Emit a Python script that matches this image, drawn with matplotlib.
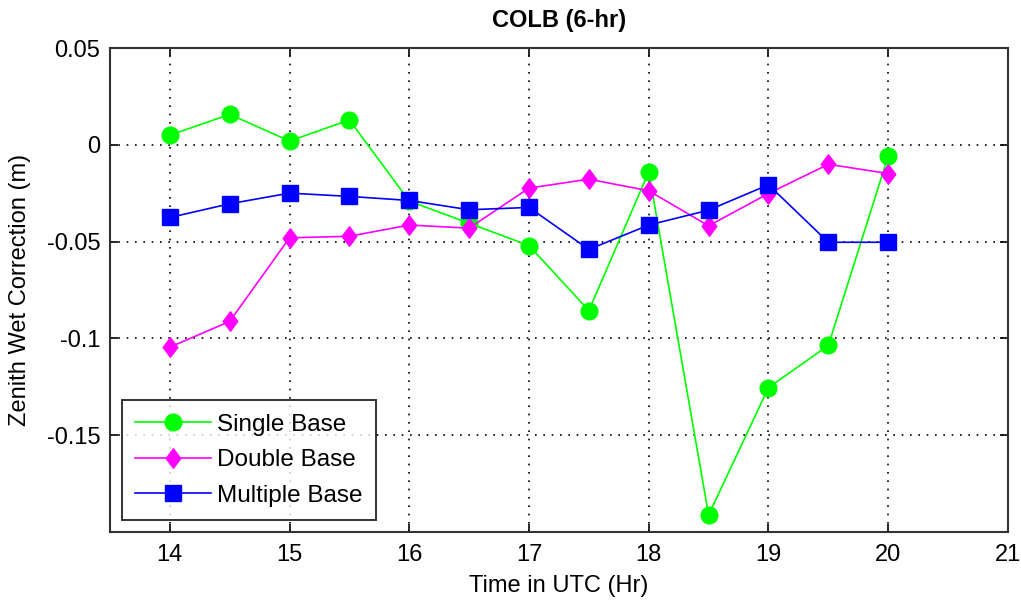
import matplotlib
matplotlib.use("Agg")
import matplotlib.pyplot as plt
from matplotlib.path import Path

times = [14, 14.5, 15, 15.5, 16, 16.5, 17, 17.5, 18, 18.5, 19, 19.5, 20]
single_base = [0.005, 0.0158, 0.002, 0.0129, -0.029, -0.0405, -0.052, -0.0856, -0.0139, -0.1912, -0.1254, -0.1036, -0.0057]
double_base = [-0.1045, -0.0912, -0.048, -0.0472, -0.0414, -0.043, -0.0223, -0.0177, -0.0237, -0.0418, -0.0251, -0.010, -0.0148]
multiple_base = [-0.0375, -0.0304, -0.0249, -0.0266, -0.0287, -0.0335, -0.0323, -0.054, -0.0414, -0.0337, -0.0206, -0.0503, -0.0503]
xticks = [14, 15, 16, 17, 18, 19, 20, 21]
yticks = [0.05, 0, -0.05, -0.1, -0.15]
ytick_labels = ["0.05", "0", "-0.05", "-0.1", "-0.15"]

plt.rcParams['font.family'] = ['Liberation Sans', 'DejaVu Sans']

tall_diamond = Path([(0, 1), (0.75, 0), (0, -1), (-0.75, 0), (0, 1)],
                    [Path.MOVETO, Path.LINETO, Path.LINETO, Path.LINETO, Path.CLOSEPOLY])

fig = plt.figure(figsize=(10.21, 6.02), dpi=100)
ax = fig.add_axes([0.1077, 0.1163, 0.8795, 0.8037])

ax.plot(times, single_base, color='#00ff00', marker='o', markersize=12, lw=1.2, label='Single Base')
ax.plot(times, double_base, color='#ff00ff', marker=tall_diamond, markersize=14, lw=1.2, label='Double Base')
ax.plot(times, multiple_base, color='#0000ff', marker='s', markersize=12, lw=1.2, label='Multiple Base')

ax.set_xlim(13.5, 21)
ax.set_ylim(-0.2, 0.05)
ax.set_xticks(xticks)
ax.set_xticklabels([str(t) for t in xticks])
ax.set_yticks(yticks)
ax.set_yticklabels(ytick_labels)
ax.tick_params(direction='in', top=True, right=True, length=6, width=1.2, labelsize=17)
ax.tick_params(axis='y', pad=7)
ax.tick_params(axis='x', pad=9)
ax.grid(True, linestyle=(0, (1, 4)), color='black', linewidth=1.2)
for s in ax.spines.values():
    s.set_linewidth(1.5)
    s.set_color('#333333')

ax.set_title('COLB (6-hr)', fontsize=17, fontweight='bold', pad=15)
ax.set_xlabel('Time in UTC (Hr)', fontsize=17)
ax.set_ylabel('Zenith Wet Correction (m)', fontsize=17)
ax.xaxis.set_label_coords(0.5, -0.088)
ax.yaxis.set_label_coords(-0.088, 0.5)

leg = ax.legend(loc='lower left', fontsize=17.5, frameon=True, fancybox=False,
                edgecolor='black', borderpad=0.55, handlelength=3.1, handletextpad=0.25,
                labelspacing=0.55, borderaxespad=0.0,
                bbox_to_anchor=(0.0134, 0.0248))
leg.get_frame().set_linewidth(1.4)

fig.savefig('out.png', dpi=100)
